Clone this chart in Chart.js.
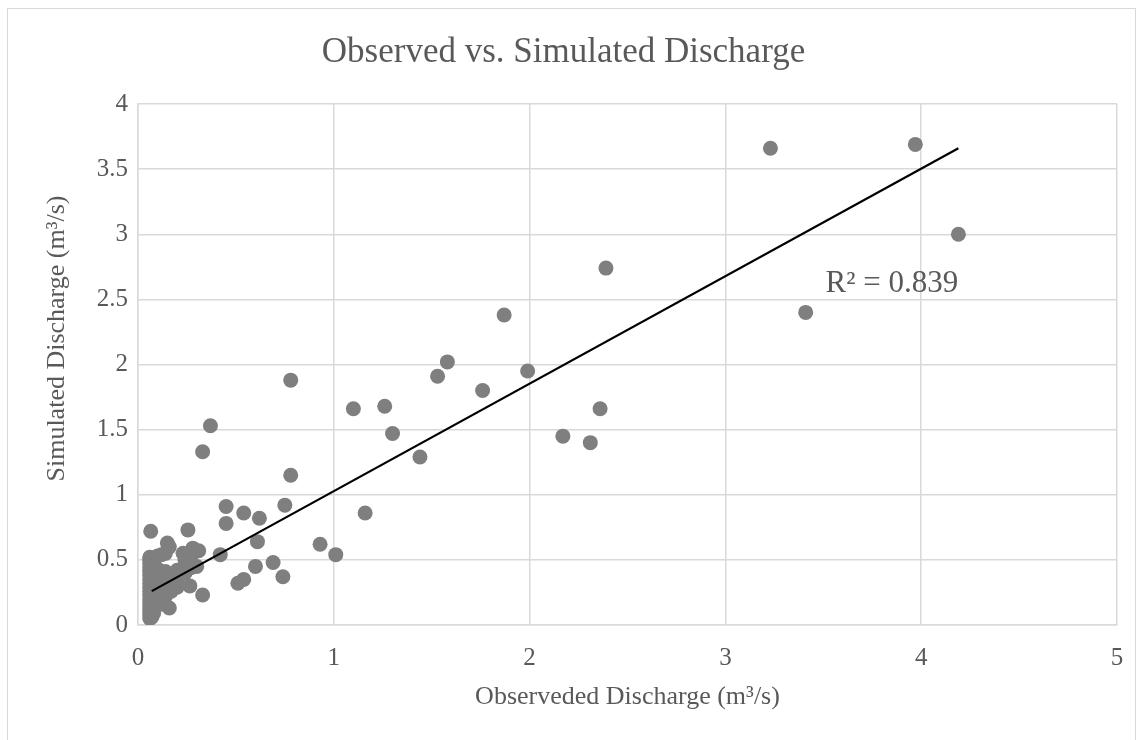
<!DOCTYPE html>
<html>
<head>
<meta charset="utf-8">
<script src="https://cdn.jsdelivr.net/npm/chart.js@4.4.1/dist/chart.umd.min.js"></script>
<style>
  html, body { margin: 0; padding: 0; background: #fff; }
  #wrap { position: relative; width: 1145px; height: 740px; }
  #frame { position: absolute; left: 7px; top: 8px; width: 1129px; height: 760px; border: 1px solid #d9d9d9; box-sizing: border-box; }
  canvas { position: absolute; left: 0; top: 0; }
</style>
</head>
<body>
<div id="wrap">
  <div id="frame"></div>
  <canvas id="chart" width="1145" height="740"></canvas>
</div>
<script>
// 观测值 vs 模拟值 (m3/s)
var observed = [
    3.97, 3.23, 4.19, 2.39, 3.41, 1.87, 1.58, 1.99, 1.53, 0.78,
    1.76, 1.26, 1.10, 2.36, 0.37, 1.30, 2.17, 2.31, 0.33, 1.44,
    0.78, 0.75, 0.45, 1.16, 0.54, 0.62, 0.45, 0.065, 0.255, 0.61,
    0.93, 1.01, 0.42, 0.15, 0.16, 0.28, 0.31, 0.23, 0.30, 0.69,
    0.60, 0.74, 0.54, 0.51, 0.265, 0.33, 0.16,
    0.06, 0.06, 0.06, 0.06, 0.06, 0.06, 0.06, 0.06, 0.06, 0.06,
    0.06, 0.06, 0.06, 0.06, 0.06, 0.06, 0.06,
    0.07, 0.07, 0.07, 0.07, 0.07, 0.07, 0.07, 0.07,
    0.08, 0.08, 0.08, 0.08, 0.08,
    0.10, 0.10, 0.10, 0.10, 0.10,
    0.12, 0.12, 0.12, 0.12, 0.12,
    0.14, 0.14, 0.14, 0.14,
    0.17, 0.17, 0.20, 0.20, 0.20, 0.24, 0.24, 0.27, 0.27
];
var simulated = [
    3.69, 3.66, 3.00, 2.74, 2.40, 2.38, 2.02, 1.95, 1.91, 1.88,
    1.80, 1.68, 1.66, 1.66, 1.53, 1.47, 1.45, 1.40, 1.33, 1.29,
    1.15, 0.92, 0.91, 0.86, 0.86, 0.82, 0.78, 0.72, 0.73, 0.64,
    0.62, 0.54, 0.54, 0.63, 0.60, 0.59, 0.57, 0.55, 0.45, 0.48,
    0.45, 0.37, 0.35, 0.32, 0.30, 0.23, 0.13,
    0.05, 0.08, 0.11, 0.14, 0.17, 0.20, 0.23, 0.26, 0.29, 0.32,
    0.35, 0.38, 0.41, 0.44, 0.47, 0.50, 0.52,
    0.06, 0.12, 0.18, 0.22, 0.30, 0.36, 0.42, 0.48,
    0.09, 0.15, 0.27, 0.33, 0.45,
    0.20, 0.25, 0.38, 0.43, 0.53,
    0.16, 0.28, 0.32, 0.40, 0.54,
    0.22, 0.36, 0.41, 0.55,
    0.26, 0.37, 0.29, 0.35, 0.42, 0.40, 0.50, 0.44, 0.52
];

// 趋势线两端
var trendX = [0.07, 4.19];
var trendY = [0.26, 3.66];
var rSquared = '0.839';

var xTicks = [0, 1, 2, 3, 4, 5];
var yTicks = [0, 0.5, 1, 1.5, 2, 2.5, 3, 3.5, 4];

var textColor = '#595959';
var gridColor = '#d9d9d9';
var serif = '"Liberation Serif", "Times New Roman", serif';

var points = observed.map(function(x, i) { return { x: x, y: simulated[i] }; });
var trend = trendX.map(function(x, i) { return { x: x, y: trendY[i] }; });

// R² 标注 和 纵轴标题（Excel 里纵轴标题略微偏上）
var extraText = {
    id: 'extraText',
    afterDatasetsDraw: function(chart) {
        var ctx = chart.ctx;
        var area = chart.chartArea;
        var px = chart.scales.x.getPixelForValue(3.85);
        var py = chart.scales.y.getPixelForValue(2.62);
        ctx.save();
        ctx.fillStyle = textColor;
        ctx.textAlign = 'center';
        ctx.textBaseline = 'middle';
        ctx.font = '31px ' + serif;
        ctx.fillText('R\u00b2 = ' + rSquared, px, py);

        ctx.font = '26px ' + serif;
        ctx.translate(57, (area.top + area.bottom) / 2 - 26);
        ctx.rotate(-Math.PI / 2);
        ctx.fillText('Simulated Discharge (m\u00b3/s)', 0, 0);
        ctx.restore();
    }
};

function plainLabel(value) {
    return String(value);
}

new Chart(document.getElementById('chart').getContext('2d'), {
    type: 'scatter',
    data: {
        datasets: [
            {
                type: 'line',
                label: 'Trend',
                data: trend,
                borderColor: '#000000',
                borderWidth: 2.2,
                pointRadius: 0,
                fill: false,
                order: 0,
            },
            {
                label: 'Discharge',
                data: points,
                backgroundColor: '#7f7f7f',
                borderWidth: 0,
                pointRadius: 7.5,
                order: 1,
            },
        ],
    },
    options: {
        responsive: false,
        animation: false,
        layout: {
            padding: { left: 10, right: 28, top: 22, bottom: 0 },
        },
        plugins: {
            legend: { display: false },
            tooltip: { enabled: false },
            title: {
                display: true,
                text: 'Observed vs. Simulated Discharge',
                color: textColor,
                font: { family: serif, size: 35, weight: 'normal', lineHeight: 1.2 },
                padding: { top: 10, bottom: 30 },
            },
        },
        scales: {
            x: {
                type: 'linear',
                min: 0,
                max: 5,
                afterBuildTicks: function(scale) {
                    scale.ticks = xTicks.map(function(v) { return { value: v }; });
                },
                afterFit: function(scale) { scale.height = 115; },
                grid: { color: gridColor, lineWidth: 1.5, drawTicks: false },
                border: { color: gridColor, width: 1.5 },
                ticks: {
                    color: textColor,
                    font: { family: serif, size: 25 },
                    padding: 18,
                    callback: plainLabel,
                },
                title: {
                    display: true,
                    text: 'Observeded Discharge (m\u00b3/s)',
                    color: textColor,
                    font: { family: serif, size: 26 },
                    padding: { top: 27, bottom: 27 },
                },
            },
            y: {
                type: 'linear',
                min: 0,
                max: 4,
                afterBuildTicks: function(scale) {
                    scale.ticks = yTicks.map(function(v) { return { value: v }; });
                },
                afterFit: function(scale) { scale.width = 128; },
                grid: { color: gridColor, lineWidth: 1.5, drawTicks: false },
                border: { color: gridColor, width: 1.5 },
                ticks: {
                    color: textColor,
                    font: { family: serif, size: 25 },
                    padding: 10,
                    callback: plainLabel,
                },
                title: { display: false },
            },
        },
    },
    plugins: [extraText],
});
</script>
</body>
</html>
